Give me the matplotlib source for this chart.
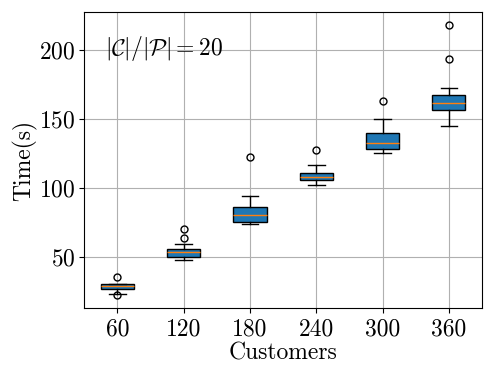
import matplotlib
matplotlib.use("Agg")
import matplotlib.pyplot as plt

plt.rcParams.update({
    "font.family": "serif",
    "font.serif": ["cmr10"],
    "mathtext.fontset": "cm",
    "axes.formatter.use_mathtext": True,
    "font.size": 17,
    "ytick.major.pad": 2.5,
})

# valores (estatísticas de cada caixa)
customers = ["60", "120", "180", "240", "300", "360"]
whislo = [23.4, 48.3, 73.9, 102.7, 125.4, 145.4]
q1 = [27.3, 50.2, 75.8, 106.0, 128.7, 156.8]
med = [29.0, 54.1, 80.4, 108.5, 132.9, 161.8]
q3 = [30.6, 55.8, 86.5, 110.9, 140.1, 167.6]
whishi = [30.9, 60.0, 94.4, 116.9, 150.0, 172.7]
fliers = [[23.0, 35.5], [64.3, 70.3], [122.9], [128.0], [163.3], [193.7, 217.9]]

stats = []
for i in range(len(customers)):
    stats.append({
        "label": customers[i],
        "whislo": whislo[i],
        "q1": q1[i],
        "med": med[i],
        "q3": q3[i],
        "whishi": whishi[i],
        "fliers": fliers[i],
    })

fig, ax = plt.subplots(figsize=(4.98, 3.74), dpi=100)
ax.bxp(stats, patch_artist=True,
       boxprops=dict(facecolor="tab:blue", edgecolor="black"),
       medianprops=dict(color="tab:orange"),
       flierprops=dict(markersize=5))
ax.grid(True)
ax.set_xlabel("Customers", labelpad=2)
ax.set_ylabel("Time(s)", labelpad=1.5)
ax.text(0.053, 0.875, r"$|\mathcal{C}|/|\mathcal{P}|=20$",
        transform=ax.transAxes, va="center", ha="left")

# posição dos eixos igual à da referência
fig.subplots_adjust(left=0.169, right=0.968, top=0.968, bottom=0.176)
fig.savefig("out.png", dpi=100)
